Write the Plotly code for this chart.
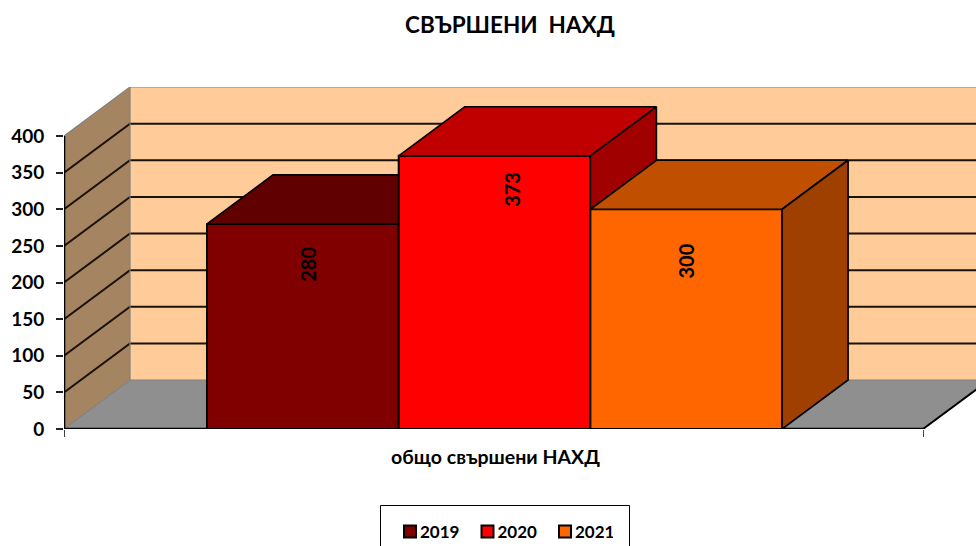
import plotly.graph_objects as go

CATEGORY = "общо свършени НАХД"
TITLE = "СВЪРШЕНИ\u00a0 НАХД"
YEARS = ["2019", "2020", "2021"]
VALUES = [280, 373, 300]
Y_TICKS = [0, 50, 100, 150, 200, 250, 300, 350, 400]

FRONT = ["#800000", "#FF0000", "#FF6600"]
TOP = ["#600000", "#C00000", "#C04F00"]
SIDE = ["#600000", "#A00000", "#A04000"]
LABEL_DX = [5, 18, 0]
LABEL_DY = [40, 33.5, 52]

FONT = "Lato, 'Open Sans', sans-serif"
W, H = 976, 546
ML, MT, MB = 64, 87, 117
PLOT_W, PLOT_H = W - ML, H - MT - MB
X_MAX = PLOT_W            # one x unit = one pixel
AXIS_LEN = 859            # front edge of the floor
DX = 66                   # depth offset, px
PX_PER_UNIT = 293 / 400
DY = 49 / PX_PER_UNIT     # depth offset, value units
Y_MAX = 400 + DY
GROUP_LEFT = 143
BAR_W = 191.7
BOLD = dict(family=FONT, color="black", weight="bold")

fig = go.Figure()


def poly(xs, ys, fill, line="rgba(0,0,0,0)", lw=0, xa="x", ya="y"):
    fig.add_trace(go.Scatter(x=xs, y=ys, mode="lines", fill="toself", fillcolor=fill,
                             line=dict(color=line, width=lw), showlegend=False,
                             hoverinfo="skip", xaxis=xa, yaxis=ya, cliponaxis=False))


def path(xs, ys, color, lw):
    fig.add_trace(go.Scatter(x=xs, y=ys, mode="lines", line=dict(color=color, width=lw),
                             showlegend=False, hoverinfo="skip", cliponaxis=False))


# walls and floor
poly([DX, X_MAX, X_MAX, DX], [DY, DY, Y_MAX, Y_MAX], "#FFCC99")
poly([0, DX, DX, 0], [0, DY, Y_MAX, 400], "#A58462")
poly([0, AXIS_LEN, AXIS_LEN + DX, DX], [0, 0, DY, DY], "#8F8F8F")

# gridlines
gx, gy = [], []
for v in Y_TICKS[1:-1]:
    gx += [0, DX, X_MAX, None]
    gy += [v, v + DY, v + DY, None]
path(gx, gy, "#1a1208", 2)
path([0, DX, X_MAX, None, DX, DX, None, 0, DX, X_MAX],
     [400, Y_MAX, Y_MAX, None, DY, Y_MAX, None, 0, DY, DY], "#808080", 1.2)
path([AXIS_LEN, AXIS_LEN + DX], [0, DY], "black", 2)
path([0, 0, None, 0, AXIS_LEN], [0, 400, None, 0, 0], "black", 2.6)

# bars, each on its own overlaid axes so that later bars cover earlier ones
for i, (year, val) in enumerate(zip(YEARS, VALUES)):
    n = i + 2
    xa, ya = f"x{n}", f"y{n}"
    left = GROUP_LEFT + i * BAR_W
    right = left + BAR_W
    fig.add_trace(go.Bar(x=[(left + right) / 2], y=[val], width=[BAR_W], name=year,
                         marker=dict(color=FRONT[i], line=dict(color="black", width=2)),
                         xaxis=xa, yaxis=ya, hoverinfo="skip"))
    poly([left, right, right + DX, left + DX, left], [val, val, val + DY, val + DY, val],
         TOP[i], "black", 1.6, xa, ya)
    poly([right, right + DX, right + DX, right, right], [0, DY, val + DY, val, 0],
         SIDE[i], "black", 1.6, xa, ya)
    fig.add_annotation(x=(left + right) / 2, y=val, xref="x", yref="y", text=str(val),
                       textangle=-90, showarrow=False, xshift=LABEL_DX[i], yshift=-LABEL_DY[i],
                       font=dict(size=20, **BOLD))

hidden = dict(visible=False, fixedrange=True)
layout = dict(
    width=W, height=H, paper_bgcolor="white", plot_bgcolor="white", barmode="overlay",
    margin=dict(l=ML, r=0, t=MT, b=MB, pad=0, autoexpand=False),
    title=dict(text=TITLE, x=510 / W, y=1 - 25 / H, xanchor="center", yanchor="middle",
               font=dict(size=22.5, **BOLD)),
    font=dict(family=FONT, color="black"),
    xaxis=dict(range=[0, X_MAX], tickvals=[AXIS_LEN / 2 + 2], ticktext=[CATEGORY],
               ticks="outside", ticklen=11, tickcolor="rgba(0,0,0,0)", showgrid=False, zeroline=False,
               showline=False, tickfont=dict(size=19.5, **BOLD), fixedrange=True,
               minor=dict(tickvals=[0, AXIS_LEN], ticks="outside", ticklen=7, tickcolor="#404040",
                          tickwidth=1, showgrid=False)),
    yaxis=dict(range=[0, Y_MAX], tickvals=Y_TICKS, ticktext=[str(t) for t in Y_TICKS],
               ticks="outside", ticklen=7, tickcolor="#222", tickwidth=1.5, showgrid=False,
               ticklabelstandoff=8,
               zeroline=False, showline=False, tickfont=dict(size=19, **BOLD), fixedrange=True),
    legend=dict(orientation="h", x=(380 - ML) / PLOT_W, y=-(514 - (H - MB)) / PLOT_H,
                xanchor="left", yanchor="top", font=dict(size=17, **BOLD),
                bgcolor="rgba(0,0,0,0)", borderwidth=0, entrywidth=32.5, entrywidthmode="pixels",
                traceorder="normal"),
    shapes=[dict(type="rect", xref="paper", yref="paper",
                 x0=(380.5 - ML) / PLOT_W, x1=(629.5 - ML) / PLOT_W,
                 y0=-(H + 6 - (H - MB)) / PLOT_H, y1=-(505.5 - (H - MB)) / PLOT_H,
                 line=dict(color="black", width=1), fillcolor="rgba(0,0,0,0)")],
)
for n in (2, 3, 4):
    layout[f"xaxis{n}"] = dict(range=[0, X_MAX], overlaying="x", **hidden)
    layout[f"yaxis{n}"] = dict(range=[0, Y_MAX], overlaying="y", **hidden)
fig.update_layout(**layout)

POST = """
document.body.style.margin = '0';
document.querySelectorAll('.legend .legendpoints').forEach(function (g) {
  g.setAttribute('transform', 'translate(10,0)');
});
"""
fig.write_html("out.html", config={"displayModeBar": False}, post_script=POST)
